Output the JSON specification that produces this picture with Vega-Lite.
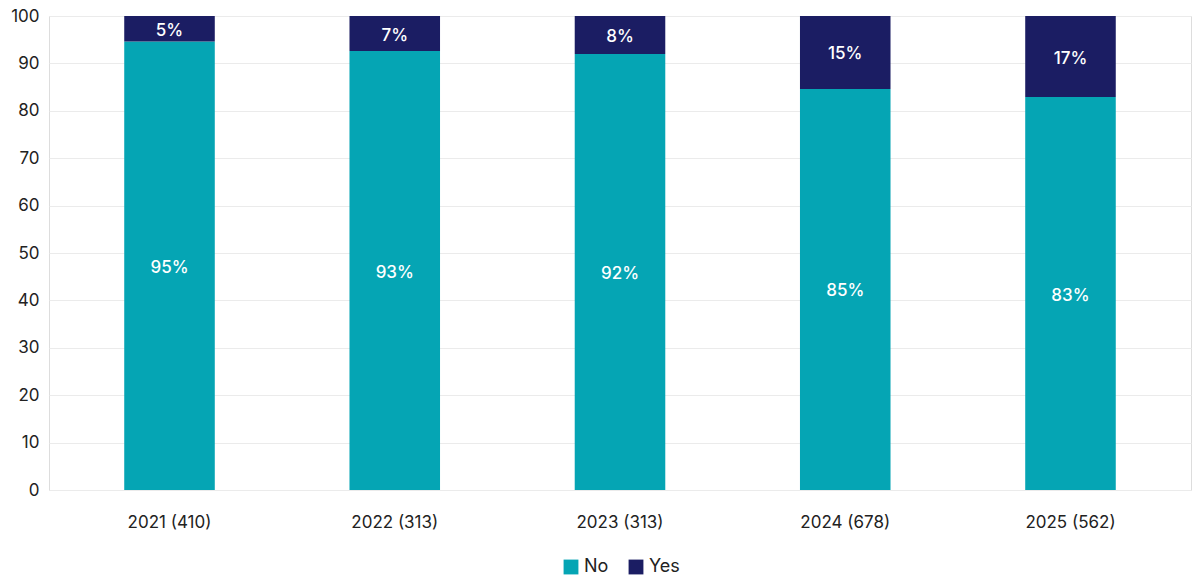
{
  "$schema": "https://vega.github.io/schema/vega-lite/v6.json",
  "width": 1142,
  "height": 474,
  "autosize": "none",
  "padding": {"left": 49, "top": 16, "right": 9, "bottom": 94},
  "background": "white",
  "data": {
    "values": [
      {"year": "2021 (410)", "answer": "No", "value": 94.6, "label": "95%"},
      {"year": "2021 (410)", "answer": "Yes", "value": 5.4, "label": "5%"},
      {"year": "2022 (313)", "answer": "No", "value": 92.6, "label": "93%"},
      {"year": "2022 (313)", "answer": "Yes", "value": 7.4, "label": "7%"},
      {"year": "2023 (313)", "answer": "No", "value": 92.0, "label": "92%"},
      {"year": "2023 (313)", "answer": "Yes", "value": 8.0, "label": "8%"},
      {"year": "2024 (678)", "answer": "No", "value": 84.6, "label": "85%"},
      {"year": "2024 (678)", "answer": "Yes", "value": 15.4, "label": "15%"},
      {"year": "2025 (562)", "answer": "No", "value": 82.9, "label": "83%"},
      {"year": "2025 (562)", "answer": "Yes", "value": 17.1, "label": "17%"}
    ]
  },
  "transform": [
    {"stack": "value", "groupby": ["year"], "sort": [{"field": "answer"}], "as": ["y0", "y1"]},
    {"calculate": "(datum.y0 + datum.y1) / 2", "as": "mid"}
  ],
  "encoding": {
    "x": {
      "field": "year",
      "type": "nominal",
      "title": null,
      "scale": {"paddingInner": 0.598, "paddingOuter": 0.334},
      "axis": {"labelAngle": 0, "labelFont": "Inter", "labelFontSize": 17, "labelColor": "#222222", "labelPadding": 24, "ticks": false, "domain": false}
    }
  },
  "layer": [
    {
      "mark": {"type": "bar"},
      "encoding": {
        "y": {
          "field": "y0",
          "type": "quantitative",
          "title": null,
          "scale": {"domain": [0, 100]},
          "axis": {"values": [0, 10, 20, 30, 40, 50, 60, 70, 80, 90, 100], "labelFont": "Inter", "labelFontSize": 17, "labelColor": "#222222", "labelPadding": 10, "ticks": false, "domain": false, "gridColor": "#ebebeb"}
        },
        "y2": {"field": "y1"},
        "color": {
          "field": "answer",
          "type": "nominal",
          "title": null,
          "scale": {"domain": ["No", "Yes"], "range": ["#05a5b4", "#1b1d63"]},
          "legend": {
            "orient": "none",
            "direction": "horizontal",
            "legendX": 513,
            "legendY": 542,
            "symbolType": "square",
            "symbolSize": 220,
            "symbolStrokeWidth": 0,
            "labelFont": "Inter",
            "labelFontSize": 18,
            "labelColor": "#222222",
            "columnPadding": 18
          }
        }
      }
    },
    {
      "mark": {"type": "text", "color": "white", "font": "Inter", "fontSize": 17, "fontWeight": 500, "baseline": "middle", "dy": 2},
      "encoding": {
        "y": {"field": "mid", "type": "quantitative"},
        "text": {"field": "label", "type": "nominal"}
      }
    }
  ]
}
